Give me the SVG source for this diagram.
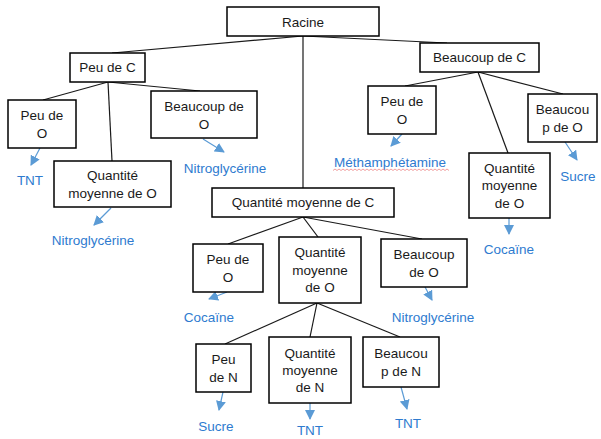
<svg xmlns="http://www.w3.org/2000/svg" width="601" height="439" viewBox="0 0 601 439">
<style>
.box{fill:#fff;stroke:#000;stroke-width:1.5}
.t{font-family:"Liberation Sans",Arial,sans-serif;font-size:13.5px;fill:#1a1a1a;text-anchor:middle}
.b{font-family:"Liberation Sans",Arial,sans-serif;font-size:13.5px;fill:#2e7bcf;text-anchor:middle}
.ln{stroke:#1a1a1a;stroke-width:1.2;fill:none}
.ar{stroke:#5b9bd5;stroke-width:1.2;fill:none;marker-end:url(#ah)}
</style>
<defs>
<marker id="ah" markerUnits="userSpaceOnUse" markerWidth="10" markerHeight="10" viewBox="0 0 10 10" refX="9" refY="5" orient="auto">
<path d="M0,0 L10,5 L0,10 z" fill="#5b9bd5"/>
</marker>
</defs>
<rect width="601" height="439" fill="#fff"/>
<g id="connectors">
<line class="ln" x1="303" y1="36" x2="112" y2="53"/>
<line class="ln" x1="303" y1="36" x2="447" y2="43"/>
<line class="ln" x1="303" y1="36" x2="303" y2="188"/>
<line class="ln" x1="108" y1="82" x2="43" y2="100"/>
<line class="ln" x1="108" y1="82" x2="112" y2="161"/>
<line class="ln" x1="108" y1="82" x2="200" y2="91"/>
<line class="ln" x1="478" y1="72" x2="405" y2="86"/>
<line class="ln" x1="478" y1="72" x2="508" y2="153"/>
<line class="ln" x1="478" y1="72" x2="563" y2="94"/>
<line class="ln" x1="303" y1="217" x2="228" y2="244"/>
<line class="ln" x1="303" y1="217" x2="318" y2="237"/>
<line class="ln" x1="303" y1="217" x2="422" y2="239"/>
<line class="ln" x1="317" y1="303" x2="225" y2="344"/>
<line class="ln" x1="317" y1="303" x2="310" y2="337"/>
<line class="ln" x1="317" y1="303" x2="400" y2="337"/>
<line class="ar" x1="40" y1="148" x2="31" y2="165"/>
<line class="ar" x1="111" y1="208" x2="94" y2="225"/>
<line class="ar" x1="203" y1="139" x2="224" y2="152"/>
<line class="ar" x1="402" y1="134" x2="391" y2="146"/>
<line class="ar" x1="565" y1="142" x2="577" y2="160"/>
<line class="ar" x1="509" y1="218" x2="509" y2="234"/>
<line class="ar" x1="227" y1="292" x2="209" y2="299"/>
<line class="ar" x1="425" y1="287" x2="432" y2="300"/>
<line class="ar" x1="223" y1="392" x2="219" y2="410"/>
<line class="ar" x1="310" y1="403" x2="310" y2="419"/>
<line class="ar" x1="401" y1="387" x2="407" y2="409"/>
</g>
<g id="racine"><rect class="box" x="227" y="7" width="152" height="29"/><text class="t" x="303" y="26.5">Racine</text></g>
<g id="peu-c"><rect class="box" x="70" y="53" width="75" height="29"/><text class="t" x="107.5" y="72">Peu de C</text></g>
<g id="beaucoup-c"><rect class="box" x="420" y="43" width="119" height="29"/><text class="t" x="479.5" y="62">Beaucoup de C</text></g>
<g id="peu-c-peu-o"><rect class="box" x="8" y="100" width="68" height="48"/><text class="t" x="42" y="120">Peu de</text><text class="t" x="42" y="138">O</text></g>
<g id="peu-c-beaucoup-o"><rect class="box" x="151" y="91" width="106" height="47"/><text class="t" x="204" y="111">Beaucoup de</text><text class="t" x="204" y="129">O</text></g>
<g id="peu-c-moy-o"><rect class="box" x="54" y="161" width="117" height="46"/><text class="t" x="112.5" y="179.5">Quantité</text><text class="t" x="112.5" y="197.5">moyenne de O</text></g>
<g id="beaucoup-c-peu-o"><rect class="box" x="368" y="86" width="68" height="48"/><text class="t" x="402" y="105.5">Peu de</text><text class="t" x="402" y="123.5">O</text></g>
<g id="beaucoup-c-beaucoup-o"><rect class="box" x="528" y="94" width="69" height="48"/><text class="t" x="562.5" y="114">Beaucou</text><text class="t" x="562.5" y="132">p de O</text></g>
<g id="beaucoup-c-moy-o"><rect class="box" x="469" y="153" width="81" height="65"/><text class="t" x="509.5" y="172.5">Quantité</text><text class="t" x="509.5" y="190">moyenne</text><text class="t" x="509.5" y="207.5">de O</text></g>
<g id="moy-c"><rect class="box" x="212" y="188" width="182" height="29"/><text class="t" x="303" y="207">Quantité moyenne de C</text></g>
<g id="moy-c-peu-o"><rect class="box" x="193" y="244" width="70" height="48"/><text class="t" x="228" y="263.5">Peu de</text><text class="t" x="228" y="281.5">O</text></g>
<g id="moy-c-moy-o"><rect class="box" x="279" y="237" width="82" height="66"/><text class="t" x="320" y="257">Quantité</text><text class="t" x="320" y="274.5">moyenne</text><text class="t" x="320" y="292">de O</text></g>
<g id="moy-c-beaucoup-o"><rect class="box" x="381" y="239" width="86" height="48"/><text class="t" x="424" y="258.5">Beaucoup</text><text class="t" x="424" y="276.5">de O</text></g>
<g id="peu-n"><rect class="box" x="196" y="344" width="55" height="48"/><text class="t" x="223.5" y="364">Peu</text><text class="t" x="223.5" y="381.5">de N</text></g>
<g id="moy-n"><rect class="box" x="269" y="337" width="82" height="66"/><text class="t" x="310" y="357.5">Quantité</text><text class="t" x="310" y="375">moyenne</text><text class="t" x="310" y="391.5">de N</text></g>
<g id="beaucoup-n"><rect class="box" x="363" y="337" width="76" height="50"/><text class="t" x="401" y="357.5">Beaucou</text><text class="t" x="401" y="375.5">p de N</text></g>
<g id="results">
<text class="b" x="30" y="185">TNT</text>
<text class="b" x="93" y="245">Nitroglycérine</text>
<text class="b" x="225" y="173">Nitroglycérine</text>
<text class="b" x="390" y="167">Méthamphétamine</text>
<path d="M333,170.5 l2,-1.5 l2,1.5 l2,-1.5 l2,1.5 l2,-1.5 l2,1.5 l2,-1.5 l2,1.5 l2,-1.5 l2,1.5 l2,-1.5 l2,1.5 l2,-1.5 l2,1.5 l2,-1.5 l2,1.5 l2,-1.5 l2,1.5 l2,-1.5 l2,1.5 l2,-1.5 l2,1.5 l2,-1.5 l2,1.5 l2,-1.5 l2,1.5 l2,-1.5 l2,1.5 l2,-1.5 l2,1.5 l2,-1.5 l2,1.5 l2,-1.5 l2,1.5 l2,-1.5 l2,1.5 l2,-1.5 l2,1.5 l2,-1.5 l2,1.5 l2,-1.5 l2,1.5 l2,-1.5 l2,1.5 l2,-1.5 l2,1.5 l2,-1.5 l2,1.5 l2,-1.5 l2,1.5 l2,-1.5 l2,1.5 l2,-1.5 l2,1.5 l2,-1.5 l2,1.5 l2,-1.5 l2,1.5" fill="none" stroke="#e88" stroke-width="0.8"/>
<text class="b" x="578" y="181">Sucre</text>
<text class="b" x="509" y="254">Cocaïne</text>
<text class="b" x="209" y="322">Cocaïne</text>
<text class="b" x="433" y="322">Nitroglycérine</text>
<text class="b" x="216" y="431">Sucre</text>
<text class="b" x="310" y="435">TNT</text>
<text class="b" x="408" y="428">TNT</text>
</g>
</svg>
